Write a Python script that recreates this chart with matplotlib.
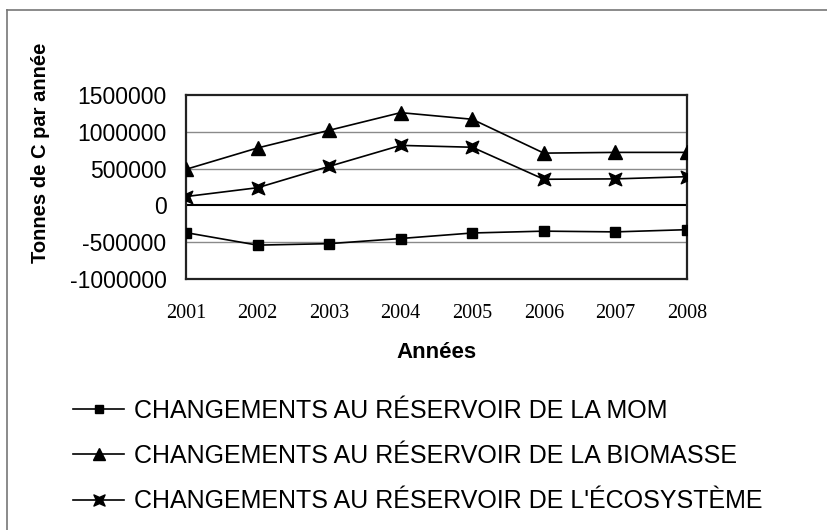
import numpy as np
import matplotlib
matplotlib.use('Agg')
import matplotlib.pyplot as plt
from matplotlib.path import Path
from matplotlib.lines import Line2D

years = [2001, 2002, 2003, 2004, 2005, 2006, 2007, 2008]
mom = [-370000, -540000, -520000, -450000, -375000, -350000, -360000, -330000]
biomasse = [490000, 780000, 1020000, 1260000, 1170000, 710000, 720000, 720000]
ecosysteme = [120000, 240000, 530000, 815000, 790000, 355000, 360000, 390000]
labels = ["CHANGEMENTS AU RÉSERVOIR DE LA MOM",
          "CHANGEMENTS AU RÉSERVOIR DE LA BIOMASSE",
          "CHANGEMENTS AU RÉSERVOIR DE L'ÉCOSYSTÈME"]

plt.rcParams['font.family'] = ['Liberation Sans', 'DejaVu Sans']

# pinched square marker used by the third series
pinch = Path([(-1, -1), (0, -0.55), (1, -1), (0.55, 0), (1, 1), (0, 0.55),
              (-1, 1), (-0.55, 0), (-1, -1)], closed=True)

fig = plt.figure(figsize=(8.28, 5.30), dpi=100)
ax = fig.add_axes([0.2246, 0.4736, 0.6051, 0.3472])

ax.plot(years, mom, color='black', lw=1.2, marker='s', ms=7, zorder=3)
ax.plot(years, biomasse, color='black', lw=1.2, marker='^', ms=9.5, zorder=3)
ax.plot(years, ecosysteme, color='black', lw=1.2, marker=pinch, ms=9, zorder=3)

ax.set_xlim(2001, 2008)
ax.set_ylim(-1000000, 1500000)
ax.set_yticks(np.arange(-1000000, 1500001, 500000))
ax.set_yticklabels(['%d' % v for v in np.arange(-1000000, 1500001, 500000)], fontsize=16.5)
ax.set_xticks(years)
ax.set_xticklabels([str(y) for y in years], family='Liberation Serif', fontsize=14.5)
ax.tick_params(axis='y', length=0, pad=14)
ax.tick_params(axis='x', length=0, pad=18)

for v in [-500000, 500000, 1000000]:
    ax.axhline(v, color='#8a8a8a', lw=1.0, zorder=1)
ax.axhline(0, color='black', lw=1.5, zorder=2)
for s in ax.spines.values():
    s.set_linewidth(1.6)
    s.set_color('#222222')

ax.set_ylabel('Tonnes de C par année', fontsize=14.5, fontweight='bold')
ax.yaxis.set_label_coords(-0.271, 0.685)
ax.set_xlabel('Années', fontsize=16, fontweight='bold', labelpad=14)

handles = [Line2D([], [], color='black', lw=1.2, marker='s', ms=6),
           Line2D([], [], color='black', lw=1.2, marker='^', ms=8),
           Line2D([], [], color='black', lw=1.2, marker=pinch, ms=8)]
fig.legend(handles, labels, loc='center left', bbox_to_anchor=(0.0882, 0.1396),
           frameon=False, fontsize=18, handlelength=2.05, handletextpad=0.4,
           labelspacing=0.85, borderpad=0, borderaxespad=0)

# scanned page border
fig.add_artist(Line2D([7/828, 1], [1-10/530, 1-10/530], color='#777777', lw=1.2))
fig.add_artist(Line2D([7/828, 7/828], [0, 1-10/530], color='#777777', lw=1.2))

fig.savefig('out.png', dpi=100)
